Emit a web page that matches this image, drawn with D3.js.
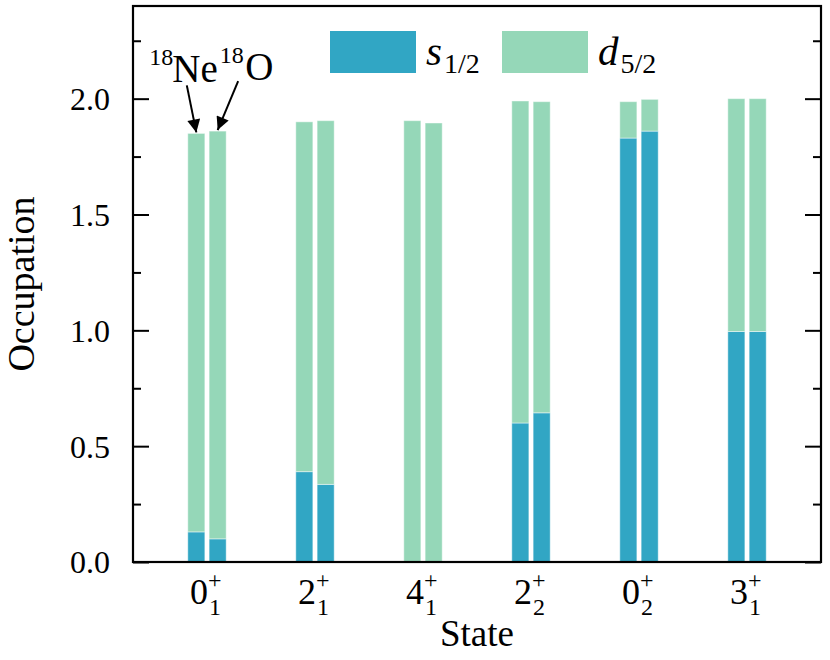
<!DOCTYPE html>
<html>
<head>
<meta charset="utf-8">
<script src="https://cdn.jsdelivr.net/npm/d3@7"></script>
<style>
  body { margin: 0; background: #fff; }
  text { font-family: "Liberation Serif", "Times New Roman", serif; fill: #000; }
</style>
</head>
<body>
<div id="chart"></div>
<script>
// states: spin, parity "+", index as subscript
const stateSpin = ["0", "2", "4", "2", "0", "3"];
const stateIndex = ["1", "1", "1", "2", "2", "1"];
const states = stateSpin.map((s, i) => s + "+" + stateIndex[i] + "_" + i);

const nuclei = ["Ne", "O"];
const massNumber = "18";

// occupation numbers
const s12Ne = [0.13, 0.39, 0.0, 0.60, 1.83, 0.995];
const d52Ne = [1.72, 1.51, 1.905, 1.39, 0.157, 1.005];
const s12O = [0.10, 0.335, 0.0, 0.644, 1.86, 0.995];
const d52O = [1.76, 1.57, 1.895, 1.343, 0.137, 1.005];

const yMajor = [0, 0.5, 1.0, 1.5, 2.0];
const yMinor = [0.25, 0.75, 1.25, 1.75, 2.25];

const colors = {s: "#31a6c4", d: "#95d7b8"};

const margin = {top: 6, right: 9, bottom: 98, left: 133};
const W = 830, H = 660;
const width = W - margin.left - margin.right;
const height = H - margin.top - margin.bottom;

const svg = d3.select("#chart").append("svg")
  .attr("width", W).attr("height", H);
const g = svg.append("g")
  .attr("transform", `translate(${margin.left},${margin.top})`);

const x0 = d3.scaleBand().domain(states).range([0, width])
  .paddingInner(0).paddingOuter(0.185);
const x1 = d3.scaleBand().domain(nuclei).range([-19.2, 19.2]).paddingInner(0.2);
const y = d3.scaleLinear().domain([0, 2.4]).range([height, 0]);

// stacked data for each nucleus
const series = {
  Ne: states.map((st, i) => ({state: st, s: s12Ne[i], d: d52Ne[i]})),
  O: states.map((st, i) => ({state: st, s: s12O[i], d: d52O[i]}))
};
const stack = d3.stack().keys(["s", "d"]);

nuclei.forEach(nuc => {
  const layers = stack(series[nuc]);
  g.append("g").selectAll("g")
    .data(layers)
    .join("g")
    .attr("fill", d => colors[d.key])
    .selectAll("rect")
    .data(d => d)
    .join("rect")
    .attr("x", d => x0(d.data.state) + x0.bandwidth() / 2 + x1(nuc))
    .attr("width", x1.bandwidth())
    .attr("y", d => y(d[1]))
    .attr("height", d => Math.max(0, y(d[0]) - y(d[1])))
    .attr("stroke", "#ffffff")
    .attr("stroke-opacity", 0.45)
    .attr("stroke-width", 1);
});

// y axes, ticks pointing inward
const styleAxis = sel => {
  sel.select(".domain").remove();
  sel.selectAll(".tick line").attr("stroke", "#000").attr("stroke-width", 2);
};
g.append("g")
  .call(d3.axisLeft(y).tickValues(yMajor).tickSize(-16).tickPadding(23)
    .tickFormat(d3.format(".1f")))
  .call(styleAxis)
  .selectAll("text")
  .attr("font-size", 32)
  .attr("font-family", "Liberation Serif")
  .attr("dy", "0.34em");
g.append("g")
  .call(d3.axisLeft(y).tickValues(yMinor).tickSize(-8).tickFormat(""))
  .call(styleAxis);
g.append("g").attr("transform", `translate(${width},0)`)
  .call(d3.axisRight(y).tickValues(yMajor).tickSize(-16).tickFormat(""))
  .call(styleAxis);
g.append("g").attr("transform", `translate(${width},0)`)
  .call(d3.axisRight(y).tickValues(yMinor).tickSize(-8).tickFormat(""))
  .call(styleAxis);

// frame
g.append("rect")
  .attr("width", width).attr("height", height)
  .attr("fill", "none").attr("stroke", "#000").attr("stroke-width", 2.2);

// x tick labels like 0^+_1 (one text, superscript and subscript stacked)
const xl = g.append("g").attr("transform", `translate(0,${height})`)
  .selectAll("text")
  .data(states)
  .join("text")
  .attr("x", d => x0(d) + x0.bandwidth() / 2 - 17)
  .attr("y", 42)
  .attr("font-size", 36);
xl.append("tspan")
  .text((d, i) => stateSpin[i]);
xl.append("tspan")
  .attr("font-size", 24)
  .attr("dy", -16)
  .text("+");
xl.append("tspan")
  .attr("font-size", 24)
  .attr("dx", -12.5)
  .attr("dy", 27)
  .text((d, i) => stateIndex[i]);

// axis titles
g.append("text")
  .attr("x", width / 2).attr("y", height + 84)
  .attr("text-anchor", "middle")
  .attr("font-size", 37)
  .text("State");
g.append("text")
  .attr("transform", `translate(${-99},${height / 2}) rotate(-90)`)
  .attr("text-anchor", "middle")
  .attr("font-size", 38)
  .text("Occupation");

// legend
const legendItems = [
  {key: "s", letter: "s", sub: "1/2", x: 197},
  {key: "d", letter: "d", sub: "5/2", x: 369}
];
const leg = g.append("g").selectAll("g")
  .data(legendItems)
  .join("g")
  .attr("transform", d => `translate(${d.x},25)`);
leg.append("rect")
  .attr("width", 86).attr("height", 42)
  .attr("fill", d => colors[d.key]);
const legText = leg.append("text")
  .attr("x", 96).attr("y", 34)
  .attr("font-size", 41);
legText.append("tspan")
  .attr("font-style", "italic")
  .text(d => d.letter);
legText.append("tspan")
  .attr("font-size", 28)
  .attr("dx", 2)
  .attr("dy", 8)
  .text(d => d.sub);

// annotations: 18Ne and 18O with arrows to the first pair of bars
const defs = svg.append("defs");
defs.append("marker")
  .attr("id", "head")
  .attr("viewBox", "0 0 10 10")
  .attr("refX", 10).attr("refY", 5)
  .attr("markerWidth", 7.5).attr("markerHeight", 6.5)
  .attr("markerUnits", "strokeWidth")
  .attr("orient", "auto")
  .append("path")
  .attr("d", "M0,0 L10,5 L0,10 Z")
  .attr("fill", "#000");

const first = states[0];
const tipNe = [x0(first) + x0.bandwidth() / 2 + x1("Ne") + x1.bandwidth() / 2,
  y(s12Ne[0] + d52Ne[0]) - 1];
const tipO = [x0(first) + x0.bandwidth() / 2 + x1("O") + x1.bandwidth() / 2,
  y(s12O[0] + d52O[0]) - 1];

const ann = [
  {nuc: "Ne", tip: tipNe, from: [-9.5, -47], tx: -47, nx: -24},
  {nuc: "O", tip: tipO, from: [20.5, -49], tx: 2, nx: 27.5}
];
ann.forEach(a => {
  g.append("line")
    .attr("x1", a.tip[0] + a.from[0]).attr("y1", a.tip[1] + a.from[1])
    .attr("x2", a.tip[0]).attr("y2", a.tip[1])
    .attr("stroke", "#000").attr("stroke-width", 2)
    .attr("marker-end", "url(#head)");
  g.append("text")
    .attr("x", a.tip[0] + a.tx).attr("y", a.tip[1] - 67)
    .attr("font-size", 24)
    .text(massNumber);
  g.append("text")
    .attr("x", a.tip[0] + a.nx).attr("y", a.tip[1] - 50)
    .attr("font-size", 39)
    .text(a.nuc);
});
</script>
</body>
</html>
